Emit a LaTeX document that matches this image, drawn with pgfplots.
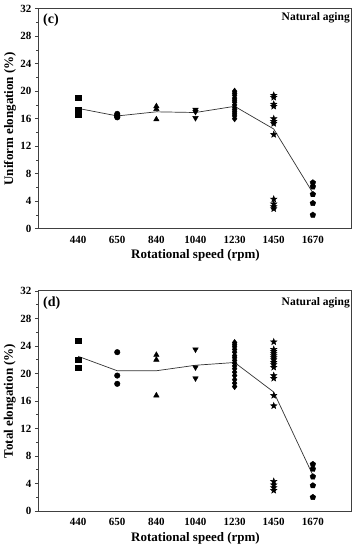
\documentclass[border=0pt]{standalone}
\usepackage{fontspec}
\setmainfont{Liberation Serif}
\usepackage{pgfplots}
\pgfplotsset{compat=1.18}
\pgfdeclareplotmark{fstar}{%
  \pgfpathmoveto{\pgfqpointpolar{90}{\pgfplotmarksize}}%
  \pgfpathlineto{\pgfqpointpolar{126}{0.42\pgfplotmarksize}}%
  \pgfpathlineto{\pgfqpointpolar{162}{\pgfplotmarksize}}%
  \pgfpathlineto{\pgfqpointpolar{198}{0.42\pgfplotmarksize}}%
  \pgfpathlineto{\pgfqpointpolar{234}{\pgfplotmarksize}}%
  \pgfpathlineto{\pgfqpointpolar{270}{0.42\pgfplotmarksize}}%
  \pgfpathlineto{\pgfqpointpolar{306}{\pgfplotmarksize}}%
  \pgfpathlineto{\pgfqpointpolar{342}{0.42\pgfplotmarksize}}%
  \pgfpathlineto{\pgfqpointpolar{18}{\pgfplotmarksize}}%
  \pgfpathlineto{\pgfqpointpolar{54}{0.42\pgfplotmarksize}}%
  \pgfpathclose
  \pgfusepathqfillstroke}
\pgfplotsset{
  myax/.style={
    width=313pt, height=220pt, scale only axis,
    xmin=-1, xmax=7, ymin=0, ymax=32,
    xtick={0,...,6}, xticklabels={440,650,840,1040,1230,1450,1670},
    ytick={0,4,...,32}, minor ytick={2,6,...,30},
    ytick pos=left, xtick pos=bottom,
    tick align=outside, major tick length=4pt, minor tick length=2.5pt,
    xtick style={draw=none},
    /pgf/number format/assume math mode=true,
    tick label style={font=\bfseries\fontsize{11}{13}\selectfont},
    label style={font=\bfseries\fontsize{13}{15}\selectfont},
    xlabel={Rotational speed (rpm)},
    xlabel style={at={(axis description cs:0.5,0)}, anchor=center, yshift=-27pt},
    ylabel style={at={(axis description cs:-0.093,0.5)}, anchor=center},
    axis line style={line width=1pt, black!75},
    tick style={line width=0.8pt, black!75},
    clip=false,
  },
  sq/.style={only marks, mark=square*, mark size=2.6pt, black},
  ci/.style={only marks, mark=*, mark size=2.8pt, black},
  tu/.style={only marks, mark=triangle*, mark size=3.2pt, black},
  td/.style={only marks, mark=triangle*, mark size=3.2pt, black, every mark/.append style={rotate=180}},
  di/.style={only marks, mark=diamond*, mark size=3.2pt, black},
  st/.style={only marks, mark=fstar, mark size=3.4pt, black, every mark/.append style={line width=0.4pt}},
  pe/.style={only marks, mark=pentagon*, mark size=3pt, black},
  ml/.style={black!80, line width=0.7pt},
}
\begin{document}
\begin{tikzpicture}
\useasboundingbox (-39pt,-39pt) rectangle (317pt,511pt);
% ---------- top (c) ----------
\begin{axis}[myax, at={(0pt,282.3pt)}, anchor=south west, ylabel={Uniform elongation (\%)}]
\addplot[sq] coordinates {(0,19.0) (0,17.3) (0,16.6)};
\addplot[ci] coordinates {(1,16.7) (1,16.5) (1,16.3) (1,16.2)};
\addplot[tu] coordinates {(2,17.8) (2,17.4) (2,15.9)};
\addplot[td] coordinates {(3,17.3) (3,17.0) (3,16.1)};
\addplot[di] coordinates {(4,20.0) (4,19.7) (4,19.4) (4,19.0) (4,18.7) (4,18.4) (4,18.0) (4,17.6) (4,17.3) (4,17.0) (4,16.7) (4,16.4) (4,16.0)};
\addplot[st] coordinates {(5,19.4) (5,19.1) (5,18.1) (5,17.8) (5,16.0) (5,15.6) (5,15.3) (5,13.7) (5,4.3) (5,3.6) (5,3.2) (5,2.9)};
\addplot[pe] coordinates {(6,6.7) (6,6.1) (6,5.0) (6,3.7) (6,2.0)};
\addplot[ml] coordinates {(0,17.5) (1,16.4) (2,17.0) (3,16.9) (4,17.8) (5,14.5) (6,5.2)};
\node[anchor=north west, font=\bfseries\fontsize{14}{16}\selectfont, inner sep=0pt] at (axis description cs:0,1) [xshift=4pt, yshift=-5pt] {(c)};
\node[anchor=north east, font=\bfseries\fontsize{11.5}{13}\selectfont, inner sep=0pt] at (axis description cs:1,1) [xshift=-2pt, yshift=-4pt] {Natural aging};
\end{axis}
% ---------- bottom (d) ----------
\begin{axis}[myax, at={(0pt,0pt)}, anchor=south west, ylabel={Total elongation (\%)}]
\addplot[sq] coordinates {(0,24.8) (0,22.0) (0,20.8)};
\addplot[ci] coordinates {(1,23.1) (1,19.7) (1,18.5)};
\addplot[tu] coordinates {(2,22.7) (2,22.0) (2,16.8)};
\addplot[td] coordinates {(3,23.5) (3,20.9) (3,19.3)};
\addplot[di] coordinates {(4,24.5) (4,24.2) (4,23.9) (4,23.5) (4,23.1) (4,22.6) (4,22.3) (4,21.9) (4,21.5) (4,21.1) (4,20.7) (4,20.2) (4,19.7) (4,19.1) (4,18.6) (4,18.1)};
\addplot[st] coordinates {(5,24.6) (5,23.5) (5,23.2) (5,22.9) (5,22.6) (5,22.3) (5,22.0) (5,21.6) (5,21.3) (5,20.9) (5,19.7) (5,19.3) (5,16.8) (5,15.3) (5,4.3) (5,3.8) (5,3.4) (5,3.0)};
\addplot[pe] coordinates {(6,6.8) (6,6.1) (6,5.0) (6,3.7) (6,2.0)};
\addplot[ml] coordinates {(0,22.5) (1,20.4) (2,20.4) (3,21.2) (4,21.6) (5,17.3) (6,5.2)};
\node[anchor=north west, font=\bfseries\fontsize{14}{16}\selectfont, inner sep=0pt] at (axis description cs:0,1) [xshift=4pt, yshift=-6pt] {(d)};
\node[anchor=north east, font=\bfseries\fontsize{11.5}{13}\selectfont, inner sep=0pt] at (axis description cs:1,1) [xshift=-2pt, yshift=-6pt] {Natural aging};
\end{axis}
\end{tikzpicture}
\end{document}
